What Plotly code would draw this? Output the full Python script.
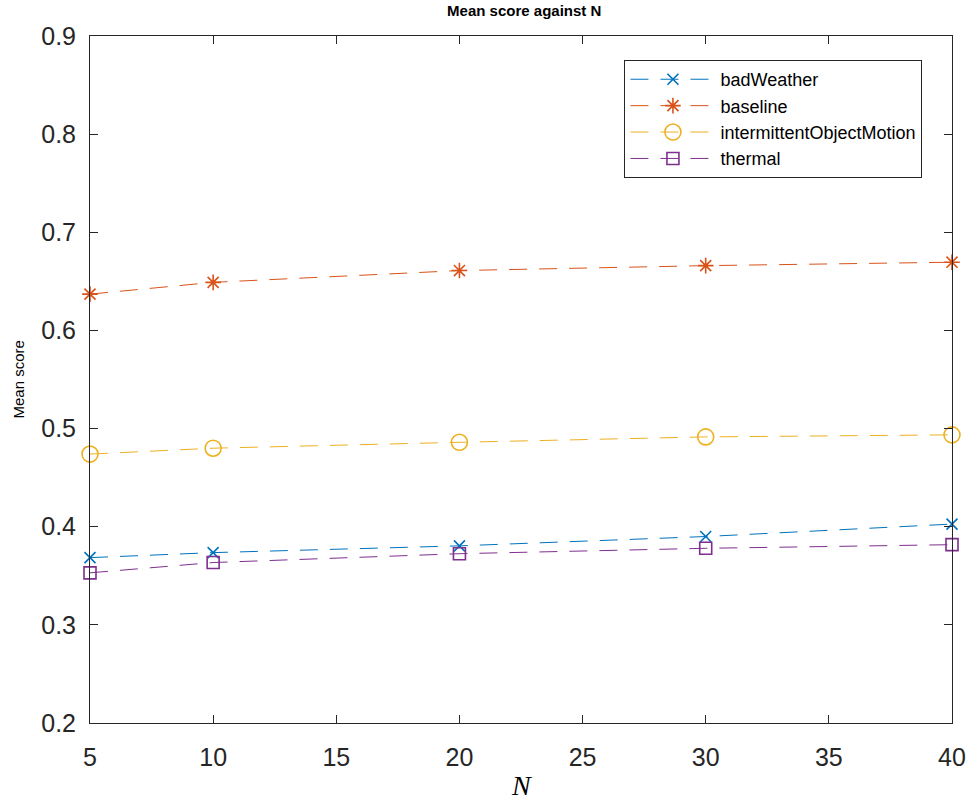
import plotly.graph_objects as go

# Window sizes evaluated
n_values = [5, 10, 20, 30, 40]

# Mean score per category
bad_weather = [0.3685, 0.3736, 0.3805, 0.3900, 0.4027]
baseline = [0.6370, 0.6490, 0.6610, 0.6660, 0.6695]
intermittent_object_motion = [0.4740, 0.4800, 0.4860, 0.4915, 0.4936]
thermal = [0.3530, 0.3635, 0.3725, 0.3780, 0.3817]

series_names = ["badWeather", "baseline", "intermittentObjectMotion", "thermal"]
series_values = [bad_weather, baseline, intermittent_object_motion, thermal]
series_colors = ["#0072BD", "#D95319", "#EDB120", "#7E2F8E"]
series_symbols = ["x-thin-open", "asterisk-open", "circle-open", "square-open"]
series_sizes = [11, 13, 16, 12]

x_ticks = [5, 10, 15, 20, 25, 30, 35, 40]
y_ticks = [0.2, 0.3, 0.4, 0.5, 0.6, 0.7, 0.8, 0.9]

fig = go.Figure()
for name, vals, color, sym, size in zip(series_names, series_values,
                                        series_colors, series_symbols, series_sizes):
    fig.add_trace(go.Scatter(
        x=n_values, y=vals, name=name, mode="lines+markers",
        line=dict(color=color, width=1, dash="18px,12px"),
        marker=dict(symbol=sym, size=size, color=color,
                    line=dict(color=color, width=1.6)),
        cliponaxis=False,
    ))

axis_common = dict(
    showgrid=False, zeroline=False, showline=True, linecolor="#262626",
    linewidth=1, mirror="ticks", ticks="inside", ticklen=8,
    tickcolor="#262626", tickfont=dict(family="Liberation Sans, Arial",
                                       size=25, color="#262626"),
)

fig.update_layout(
    width=978, height=803,
    margin=dict(l=90, r=20, t=36, b=80),
    paper_bgcolor="white", plot_bgcolor="white",
    title=dict(text="<b>Mean score against N</b>", x=0.536, xanchor="center",
               y=0.986, yanchor="middle",
               font=dict(family="Liberation Sans, Arial", size=15, color="black")),
    xaxis=dict(range=[5, 40], tickvals=x_ticks, ticklabelstandoff=12,
               **axis_common),
    yaxis=dict(range=[0.2, 0.9], tickvals=y_ticks, ticklabelstandoff=8,
               tickformat=".1f", **axis_common),
    showlegend=True,
    legend=dict(x=0.62, y=0.965, xanchor="left", yanchor="top",
                bgcolor="white", bordercolor="#262626", borderwidth=1,
                font=dict(family="Liberation Sans, Arial", size=18, color="black"),
                itemwidth=85),
    annotations=[
        dict(text="Mean score", xref="paper", yref="paper", x=0, y=0.5,
             xanchor="center", yanchor="middle",
             xshift=-72, textangle=-90, showarrow=False,
             font=dict(family="Liberation Sans, Arial", size=15, color="black")),
        dict(text="<i>N</i>", xref="paper", yref="paper", x=0.5, y=0,
             xanchor="center", yanchor="middle",
             yshift=-62, showarrow=False,
             font=dict(family="Liberation Serif, Times New Roman", size=28,
                       color="black")),
    ],
)

fig.write_html("out.html")
